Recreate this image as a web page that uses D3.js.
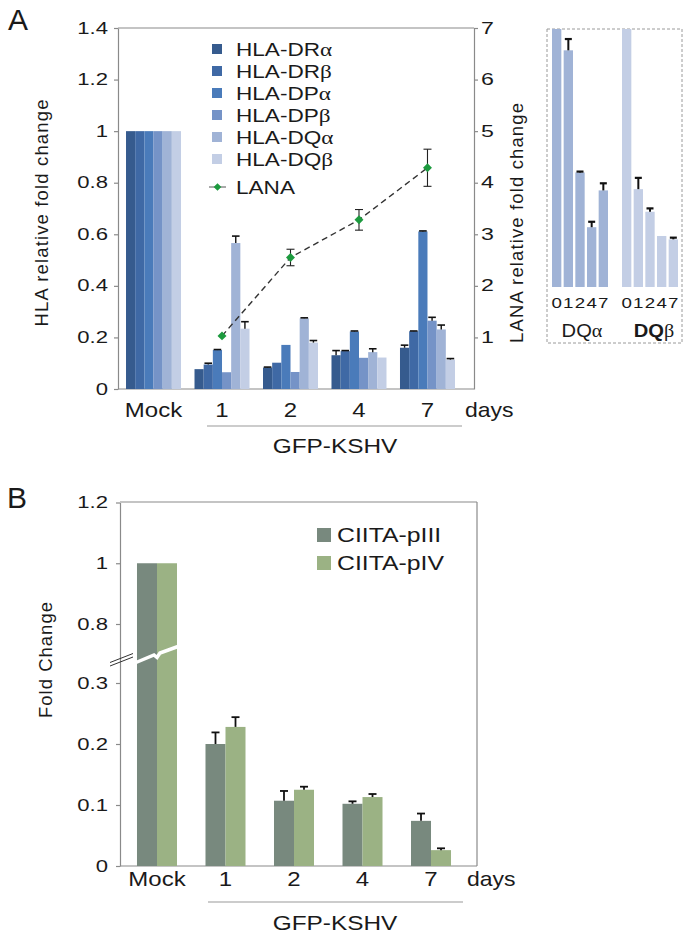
<!DOCTYPE html>
<html><head><meta charset="utf-8">
<script src="https://cdn.jsdelivr.net/npm/d3@7"></script>
<style>
body{margin:0;background:#fff}
svg{display:block}
text{font-family:"Liberation Sans",Arial,sans-serif;fill:#1a1a1a}
</style>
</head><body>
<svg id="c" width="690" height="934"></svg>
<script>
// ---------------- DATA ----------------
const days = ["Mock","1","2","4","7"];
const insetDays = ["0","1","2","4","7"];
const hlaPrefix = ["HLA-DR","HLA-DR","HLA-DP","HLA-DP","HLA-DQ","HLA-DQ"];
const hlaGreek  = ["α","β","α","β","α","β"];
const hlaColors = ["#365b8e","#3f69a5","#4a7bba","#7593c7","#a0b3d6","#c3cee5"];
const DRa    = [1, 0.077, 0.083, 0.131, 0.160];
const DRaErr = [0, 0,     0.002, 0.018, 0.010];
const DRb    = [1, 0.095, 0.102, 0.147, 0.224];
const DRbErr = [0, 0.005, 0,     0.002, 0.001];
const DPa    = [1, 0.151, 0.171, 0.223, 0.611];
const DPaErr = [0, 0.002, 0,     0.002, 0.002];
const DPb    = [1, 0.065, 0.066, 0.121, 0.265];
const DPbErr = [0, 0,     0,     0,     0.013];
const DQa    = [1, 0.566, 0.274, 0.143, 0.231];
const DQaErr = [0, 0.027, 0.002, 0.013, 0.017];
const DQb    = [1, 0.234, 0.180, 0.122, 0.114];
const DQbErr = [0, 0.027, 0.008, 0,     0.004];
const lanaDays = ["1","2","4","7"];
const lana     = [1.03, 2.55, 3.28, 4.29];
const lanaErr  = [0.03, 0.16, 0.20, 0.36];
const tickA      = [0,0.2,0.4,0.6,0.8,1,1.2,1.4];
const tickALabel = ["0","0.2","0.4","0.6","0.8","1","1.2","1.4"];
const tickLana   = [1,2,3,4,5,6,7];
const ciitaNames  = ["CIITA-pIII","CIITA-pIV"];
const ciitaColors = ["#78897e","#9bb284"];
const pIII    = [1, 0.200, 0.107, 0.102, 0.074];
const pIIIErr = [0, 0.019, 0.016, 0.004, 0.012];
const pIV     = [1, 0.228, 0.125, 0.113, 0.026];
const pIVErr  = [0, 0.016, 0.005, 0.005, 0.003];
const tickB      = [0,0.1,0.2,0.3,0.8,1,1.2];
const tickBLabel = ["0","0.1","0.2","0.3","0.8","1","1.2"];

const hlaVals = [DRa,DRb,DPa,DPb,DQa,DQb];
const hlaErrs = [DRaErr,DRbErr,DPaErr,DPbErr,DQaErr,DQbErr];
const hlaIdx = d3.range(hlaVals.length);

// ---------------- HELPERS ----------------
const svg = d3.select("#c");
const AX = "#8a8a8a";
function label(g, x, y, str, o={}) {
  const size=o.size||18, sx=o.sx||1, rot=o.rotate||0;
  const t = g.append("text")
    .attr("transform", `translate(${x},${y}) rotate(${rot}) scale(${sx},1)`)
    .attr("text-anchor", o.anchor||"start")
    .style("font-size", size+"px")
    .style("font-weight", o.weight||"normal")
    .text(str);
  if (o.len) t.attr("textLength", o.len).attr("lengthAdjust","spacing");
  return t;
}
function styleAxis(g, sx, gap, anchor) {
  g.select(".domain").attr("stroke", AX).attr("stroke-width",1.2);
  g.selectAll(".tick line").attr("stroke", AX).attr("stroke-width",1.2);
  g.selectAll(".tick text").style("font-size","16px").attr("fill","#1a1a1a")
    .attr("x", gap/sx).attr("transform", `scale(${sx},1)`).attr("text-anchor", anchor);
}

// ================= PANEL A =================
const A = {l:118, r:474, t:28, b:389};
const xA = d3.scaleBand().domain(days).range([118,463]).paddingInner(0.197).paddingOuter(0.117);
const xAin = d3.scaleBand().domain(hlaIdx).range([0, xA.bandwidth()]);
const yA = d3.scaleLinear().domain([0,1.4]).range([A.b, A.t]);
const yL = d3.scaleLinear().domain([0,7]).range([A.b, A.t]);
const gA = svg.append("g");

label(gA, 8, 30, "A", {size:30});

gA.append("line").attr("x1",A.l).attr("x2",A.r).attr("y1",A.t).attr("y2",A.t).attr("stroke",AX).attr("stroke-width",1.2);
gA.append("line").attr("x1",A.l).attr("x2",A.r).attr("y1",A.b).attr("y2",A.b).attr("stroke",AX).attr("stroke-width",1.2);

const axLA = gA.append("g").attr("transform",`translate(${A.l},0)`)
  .call(d3.axisLeft(yA).tickValues(tickA).tickSize(4).tickSizeOuter(0).tickFormat((d,i)=>tickALabel[i]));
styleAxis(axLA, 1.38, -10, "end");
const axRA = gA.append("g").attr("transform",`translate(${A.r},0)`)
  .call(d3.axisRight(yL).tickValues(tickLana).tickSize(4).tickSizeOuter(0).tickFormat(d=>d));
styleAxis(axRA, 1.45, 7, "start");

hlaIdx.forEach(s => {
  gA.append("g").selectAll("rect").data(days).join("rect")
    .attr("x", (d)=>xA(d)+xAin(s)).attr("width", xAin.bandwidth())
    .attr("y", (d,i)=>yA(hlaVals[s][i])).attr("height",(d,i)=>yA(0)-yA(hlaVals[s][i]))
    .attr("fill", hlaColors[s]);
});
hlaIdx.forEach(s => {
  days.forEach((d,i) => {
    const e = hlaErrs[s][i]; if (!e) return;
    const cx = xA(d)+xAin(s)+xAin.bandwidth()/2, v = hlaVals[s][i];
    gA.append("line").attr("x1",cx).attr("x2",cx).attr("y1",yA(v)).attr("y2",yA(v+e)).attr("stroke","#111").attr("stroke-width",1.4);
    gA.append("line").attr("x1",cx-3.8).attr("x2",cx+3.8).attr("y1",yA(v+e)).attr("y2",yA(v+e)).attr("stroke","#111").attr("stroke-width",1.6);
  });
});

const lx = d => xA(d)+xA.bandwidth()/2;
gA.append("path").datum(lanaDays.map((d,i)=>[lx(d), yL(lana[i])]))
  .attr("d", d3.line()).attr("fill","none").attr("stroke","#333").attr("stroke-width",1.4).attr("stroke-dasharray","6,4");
lanaDays.forEach((d,i) => {
  const cx = lx(d), lo = yL(lana[i]-lanaErr[i]), hi = yL(lana[i]+lanaErr[i]);
  if (lanaErr[i] > 0.05) {
    gA.append("line").attr("x1",cx).attr("x2",cx).attr("y1",lo).attr("y2",hi).attr("stroke","#222").attr("stroke-width",1.1);
    [lo,hi].forEach(yy => gA.append("line").attr("x1",cx-4).attr("x2",cx+4).attr("y1",yy).attr("y2",yy).attr("stroke","#222").attr("stroke-width",1.1));
  }
});
gA.append("g").selectAll("path").data(lanaDays).join("path")
  .attr("transform",(d,i)=>`translate(${lx(d)},${yL(lana[i])}) rotate(45)`)
  .attr("d", d3.symbol(d3.symbolSquare, 40)()).attr("fill","#1c9a3e");

const legY = [49,71,93,115,137,159];
hlaIdx.forEach(s => {
  gA.append("rect").attr("x",212).attr("y",legY[s]-5).attr("width",10).attr("height",10).attr("fill",hlaColors[s]);
  const t = label(gA, 236, legY[s]+6.5, hlaPrefix[s], {size:18.5, sx:1.22});
  t.append("tspan").style("font-family",'"Liberation Serif","Times New Roman",serif').style("font-size","19px").text(hlaGreek[s]);
});
gA.append("line").attr("x1",209).attr("x2",226).attr("y1",187).attr("y2",187).attr("stroke","#555").attr("stroke-width",1);
gA.append("path").attr("transform","translate(217.5,187) rotate(45)").attr("d", d3.symbol(d3.symbolSquare, 30)()).attr("fill","#1c9a3e");
label(gA, 236, 193.5, "LANA", {size:18.5, sx:1.22});

label(gA, 48, 213, "HLA relative fold change", {size:18.5, rotate:-90, anchor:"middle", len:227});
label(gA, 523, 223, "LANA relative fold change", {size:18.5, rotate:-90, anchor:"middle", len:240});

days.forEach(d => label(gA, xA(d)+xA.bandwidth()/2, 417, d, {size:20, sx:1.2, anchor:"middle"}));
label(gA, 465, 417, "days", {size:20, sx:1.15});
gA.append("line").attr("x1",207).attr("x2",462).attr("y1",426).attr("y2",426).attr("stroke","#999").attr("stroke-width",1.2);
label(gA, 335, 453, "GFP-KSHV", {size:20, sx:1.22, anchor:"middle"});

// ---------- inset ----------
const gI = svg.append("g");
const IB = {l:547, r:682, t:29, b:343};
gI.append("rect").attr("x",IB.l).attr("y",IB.t).attr("width",IB.r-IB.l).attr("height",IB.b-IB.t)
  .attr("fill","none").attr("stroke","#9a9a9a").attr("stroke-width",1).attr("stroke-dasharray","3,2");
const yI = d3.scaleLinear().domain([0,0.617]).range([287,29]).clamp(true);
const insetGroups = ["DQα","DQβ"];
const insetVals = [DQa, DQb], insetErrs = [DQaErr, DQbErr], insetColors = [hlaColors[4], hlaColors[5]];
const gxI = d3.scaleBand().domain(insetGroups).range([552,678]).paddingInner(0.2);
const dxI = d3.scaleBand().domain(insetDays).range([0, gxI.bandwidth()]).paddingInner(0.2);
insetGroups.forEach((g,k) => {
  gI.append("g").selectAll("rect").data(insetDays).join("rect")
    .attr("x", d=>gxI(g)+dxI(d)).attr("width", dxI.bandwidth())
    .attr("y",(d,i)=>yI(insetVals[k][i])).attr("height",(d,i)=>yI(0)-yI(insetVals[k][i]))
    .attr("fill", insetColors[k]);
  insetDays.forEach((d,i) => {
    const e = insetErrs[k][i], v = insetVals[k][i];
    if (e && v < 0.6) {
      const cx = gxI(g)+dxI(d)+dxI.bandwidth()/2;
      gI.append("line").attr("x1",cx).attr("x2",cx).attr("y1",yI(v)).attr("y2",yI(v+e)).attr("stroke","#111").attr("stroke-width",2);
      gI.append("line").attr("x1",cx-3.5).attr("x2",cx+3.5).attr("y1",yI(v+e)).attr("y2",yI(v+e)).attr("stroke","#111").attr("stroke-width",2.2);
    }
    label(gI, gxI(g)+dxI(d)+dxI.bandwidth()/2, 307.5, d, {size:15, sx:1.25, anchor:"middle"});
  });
});
const tq1 = label(gI, gxI("DQα")+gxI.bandwidth()/2+2, 337, "DQ", {size:18, sx:1.12, anchor:"middle"});
tq1.append("tspan").style("font-family",'"Liberation Serif",serif').style("font-size","18px").text("α");
const tq2 = label(gI, gxI("DQβ")+gxI.bandwidth()/2+4, 337, "DQ", {size:18, sx:1.12, anchor:"middle", weight:"bold"});
tq2.append("tspan").style("font-family",'"Liberation Serif",serif').style("font-size","18px").style("font-weight","normal").text("β");

// ================= PANEL B =================
const B = {l:120, r:477, t:502, b:866};
const xB = d3.scaleBand().domain(days).range([120,468]).paddingInner(0.416).paddingOuter(0.248);
const xBin = d3.scaleBand().domain([0,1]).range([0, xB.bandwidth()]);
const yB = d3.scaleLinear().domain([0,0.3,0.8,1.2]).range([866,683,624,502.5]);
const gB = svg.append("g");
label(gB, 7, 508, "B", {size:30});

gB.append("line").attr("x1",B.l).attr("x2",B.r).attr("y1",B.t).attr("y2",B.t).attr("stroke",AX).attr("stroke-width",1.2);
gB.append("line").attr("x1",B.l).attr("x2",B.r).attr("y1",B.b).attr("y2",B.b).attr("stroke",AX).attr("stroke-width",1.2);
gB.append("line").attr("x1",B.r).attr("x2",B.r).attr("y1",B.t).attr("y2",B.b).attr("stroke",AX).attr("stroke-width",1.2);
const axLB = gB.append("g").attr("transform",`translate(${B.l},0)`)
  .call(d3.axisLeft(yB).tickValues(tickB).tickSize(4).tickSizeOuter(0).tickFormat((d,i)=>tickBLabel[i]));
styleAxis(axLB, 1.38, -12, "end");

const bVals = [pIII, pIV], bErrs = [pIIIErr, pIVErr];
[0,1].forEach(s => {
  gB.append("g").selectAll("rect").data(days).join("rect")
    .attr("x", d=>xB(d)+xBin(s)).attr("width", xBin.bandwidth())
    .attr("y",(d,i)=>yB(bVals[s][i])).attr("height",(d,i)=>yB(0)-yB(bVals[s][i]))
    .attr("fill", ciitaColors[s]);
  days.forEach((d,i) => {
    const e = bErrs[s][i]; if (!e) return;
    const v = bVals[s][i], cx = xB(d)+xBin(s)+xBin.bandwidth()/2;
    gB.append("line").attr("x1",cx).attr("x2",cx).attr("y1",yB(v)).attr("y2",yB(v+e)).attr("stroke","#111").attr("stroke-width",1.8);
    gB.append("line").attr("x1",cx-4).attr("x2",cx+4).attr("y1",yB(v+e)).attr("y2",yB(v+e)).attr("stroke","#111").attr("stroke-width",1.8);
  });
});
const bx0 = xB("Mock"), bx1 = xB("Mock")+xB.bandwidth(), bxc = (bx0+bx1)/2, by = yB(0.55);
gB.append("path").attr("d", d3.line()([[bx0-1,by+9],[bxc-3,by+1.5],[bxc,by+4],[bxc+3,by-0.5],[bx1+1,by-7]]))
  .attr("fill","none").attr("stroke","#fff").attr("stroke-width",3.5);
[0,3.5].forEach(o => gB.append("line").attr("x1",110).attr("x2",133).attr("y1",by+9+o).attr("y2",by+o)
  .attr("stroke","#333").attr("stroke-width",1));

ciitaNames.forEach((n,i) => {
  const cy = 535 + i*28;
  gB.append("rect").attr("x",317).attr("y",cy-7).attr("width",14).attr("height",14).attr("fill",ciitaColors[i]);
  label(gB, 337, cy+7, n, {size:20, sx:1.24});
});

label(gB, 52, 660, "Fold Change", {size:18.5, rotate:-90, anchor:"middle", len:116});
days.forEach(d => label(gB, xB(d)+xB.bandwidth()/2, 886, d, {size:20, sx:1.2, anchor:"middle"}));
label(gB, 467, 886, "days", {size:20, sx:1.15});
gB.append("line").attr("x1",208).attr("x2",463).attr("y1",902).attr("y2",902).attr("stroke","#999").attr("stroke-width",1.2);
label(gB, 335, 930, "GFP-KSHV", {size:20, sx:1.22, anchor:"middle"});
</script>
</body></html>
